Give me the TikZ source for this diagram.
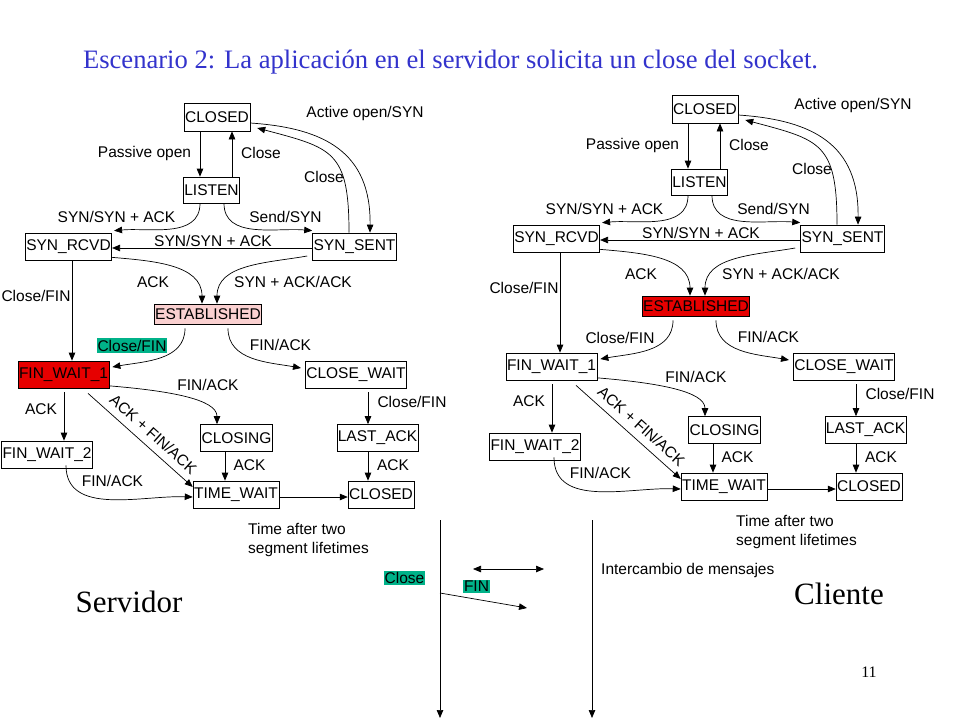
\documentclass[tikz,border=0pt]{standalone}
\usepackage{fontspec}
\setmainfont{Liberation Sans}
\newfontfamily\timesf{Liberation Serif}
\usetikzlibrary{arrows.meta}

\definecolor{titleblue}{RGB}{51,51,204}
\definecolor{hlgreen}{RGB}{0,178,137}
\definecolor{estpink}{RGB}{250,208,208}
\definecolor{stred}{RGB}{230,0,0}

\newcommand\lbfont{\fontsize{15.5}{19}\selectfont}

\tikzset{
 st/.style={draw=black, line width=0.7pt, inner xsep=1pt, inner ysep=0pt, minimum height=27pt, font=\lbfont},
 lbl/.style={inner sep=0pt, font=\lbfont},
 hl/.style={fill=hlgreen, inner xsep=1pt, inner ysep=1.5pt},
 arr/.style={line width=0.7pt, -{Triangle[length=8pt,width=6.5pt]}},
 darr/.style={line width=0.7pt, {Triangle[length=8pt,width=6.5pt]}-{Triangle[length=8pt,width=6.5pt]}},
 ln/.style={line width=0.7pt}
}

\newcommand\tcpfsm[4]{%
 % states
 \node[st,minimum height=28pt] (#1closed) at (217,117) {CLOSED};
 \node[st,minimum height=26pt] (#1listen) at (211.5,190) {LISTEN};
 \node[st] (#1synrcvd) at (68.5,246.5) {SYN\_RCVD};
 \node[st] (#1synsent) at (354.5,246.5) {SYN\_SENT};
 \node[st,minimum height=20pt,fill=#2] (#1est) at (208,314) {ESTABLISHED};
 \node[st,fill=#3] (#1fwa) at (63.5,374.5) {FIN\_WAIT\_1};
 \node[st] (#1cw) at (356,374.5) {CLOSE\_WAIT};
 \node[st] (#1closing) at (236.5,438) {CLOSING};
 \node[st] (#1lastack) at (377.5,438) {LAST\_ACK};
 \node[st] (#1fwb) at (47,454.5) {FIN\_WAIT\_2};
 \node[st] (#1tw) at (236,494.5) {TIME\_WAIT};
 \node[st] (#1closedb) at (381,494.5) {CLOSED};
 % transitions
 \draw[arr] ([xshift=-17pt]#1closed.south) -- ([xshift=-11.5pt]#1listen.north);
 \draw[arr] ([xshift=20.5pt]#1listen.north) -- ([xshift=15pt]#1closed.south);
 \draw[arr] ([yshift=-6pt]#1closed.east) .. controls +(75,5) and +(1,-80) .. ([xshift=15.5pt]#1synsent.north);
 \draw[arr] ([xshift=-5.5pt]#1synsent.north) .. controls +(0,-82) and +(75,20) .. ([xshift=7pt,yshift=-11pt]#1closed.east);
 \draw[arr] ([xshift=-11.5pt]#1listen.south) to[out=-90,in=5] ([xshift=2pt,yshift=2pt]#1synrcvd.north east);
 \draw[arr] ([xshift=12.5pt]#1listen.south) to[out=-90,in=175] ([yshift=2pt]#1synsent.north west);
 \draw[arr] ([yshift=-1.5pt]#1synsent.west) -- ([yshift=-1.5pt]#1synrcvd.east);
 \draw[arr] ([yshift=3pt]#1synrcvd.south east) to[out=-5,in=90] ([xshift=-6pt]#1est.north);
 \draw[arr] ([xshift=-5pt,yshift=-9.5pt]#1synsent.west) to[out=190,in=90] ([xshift=9pt]#1est.north);
 \draw[arr] ([xshift=3.5pt]#1synrcvd.south) -- ([xshift=8.5pt]#1fwa.north);
 \draw[arr] ([xshift=-23pt,yshift=-4pt]#1est.south) to[out=-90,in=10] ([xshift=3pt,yshift=7.5pt]#1fwa.east);
 \draw[arr] ([xshift=20pt,yshift=-4pt]#1est.south) to[out=-90,in=170] ([xshift=-4pt,yshift=6.5pt]#1cw.west);
 \draw[arr] ([xshift=0.5pt,yshift=-4pt]#1fwa.south) -- ([xshift=17pt]#1fwb.north);
 \draw[arr] ([yshift=2.5pt]#1fwa.south east) .. controls +(60,5) and +(0,-25) .. ([xshift=-19.5pt]#1closing.north);
 \draw[arr] ([xshift=24.5pt,yshift=-5pt]#1fwa.south) -- ([yshift=7.5pt]#1tw.west);
 \draw[arr] ([xshift=19pt,yshift=3pt]#1fwb.south) to[out=-90,in=178] ([yshift=-2.5pt]#1tw.west);
 \draw[arr] ([xshift=-11.5pt]#1closing.south) -- ([xshift=-11pt]#1tw.north);
 \draw[arr] ([xshift=12pt,yshift=-4pt]#1cw.south) -- ([xshift=-9.5pt]#1lastack.north);
 \draw[arr] ([xshift=-9.5pt]#1lastack.south) -- ([xshift=-13pt]#1closedb.north);
 \draw[arr] ([yshift=-2.5pt]#1tw.east) -- ([yshift=-2.5pt]#1closedb.west);
 % labels
 \node[lbl] (#1l1) at (365,113) {Active open/SYN};
 \node[lbl] (#1l2) at (144.5,153) {Passive open};
 \node[lbl] (#1l3) at (261,153) {Close};
 \node[lbl] (#1l4) at (324,177) {Close};
 \node[lbl] (#1l5) at (116.5,217) {SYN/SYN + ACK};
 \node[lbl] (#1l6) at (285.5,217) {Send/SYN};
 \node[lbl] (#1l7) at (213,241) {SYN/SYN + ACK};
 \node[lbl] (#1l8) at (153,282) {ACK};
 \node[lbl] (#1l9) at (293,282) {SYN + ACK/ACK};
 \node[lbl] (#1l10) at (36,296) {Close/FIN};
 \node[lbl,#4] (#1l11) at (132,345.5) {Close/FIN};
 \node[lbl] (#1l12) at (280.5,345) {FIN/ACK};
 \node[lbl] (#1l13) at (208,385) {FIN/ACK};
 \node[lbl] (#1l14) at (41,409) {ACK};
 \node[lbl,rotate=-42] (#1l15) at (153.5,434) {ACK + FIN/ACK};
 \node[lbl] (#1l16) at (112.5,481) {FIN/ACK};
 \node[lbl] (#1l17) at (249.5,465) {ACK};
 \node[lbl] (#1l18) at (412,402) {Close/FIN};
 \node[lbl] (#1l19) at (393,465) {ACK};
 \node[lbl,anchor=west,align=left,font=\fontsize{15.5}{19}\selectfont] (#1l20) at (248,539.5) {Time after two\\segment lifetimes};
}

\begin{document}
\begin{tikzpicture}[x=1pt,y=-1pt]
 \fill[white] (0,0) rectangle (960,720);
 \useasboundingbox (0,0) rectangle (960,720);

 \node[font=\timesf\fontsize{26.6}{30}\selectfont, text=titleblue, inner sep=0pt] (title) at (450.5,62)
   {Escenario 2: La aplicación en el servidor solicita un close del socket.};

 \begin{scope}
  \tcpfsm{L}{estpink}{stred}{hl}
 \end{scope}
 \begin{scope}[shift={(488,-8)}]
  \tcpfsm{R}{stred}{white}{}
 \end{scope}

 % message exchange
 \coordinate (sa) at (440,520);
 \coordinate (sb) at (440,718);
 \coordinate (ca) at (592,520);
 \coordinate (cb) at (592,718);
 \draw[arr] (sa) -- (sb);
 \draw[arr] (ca) -- (cb);
 \coordinate (da) at (473,569);
 \coordinate (db) at (544,569);
 \draw[darr] (da) -- (db);
 \coordinate (fa) at (440,593);
 \coordinate (fb) at (527,608);
 \draw[arr] (fa) -- (fb);
 \node[lbl,hl] (mclose) at (404.5,578) {Close};
 \node[lbl,hl] (mfin) at (476.5,586.5) {FIN};
 \node[lbl,anchor=west] (minter) at (601,570) {Intercambio de mensajes};

 \node[font=\timesf\fontsize{31}{36}\selectfont, inner sep=0pt] (servidor) at (129,602) {Servidor};
 \node[font=\timesf\fontsize{31}{36}\selectfont, inner sep=0pt] (cliente) at (839,594) {Cliente};
 \node[font=\timesf\fontsize{16}{19}\selectfont, inner sep=0pt] (pagenum) at (869,672) {11};
\end{tikzpicture}
\end{document}
